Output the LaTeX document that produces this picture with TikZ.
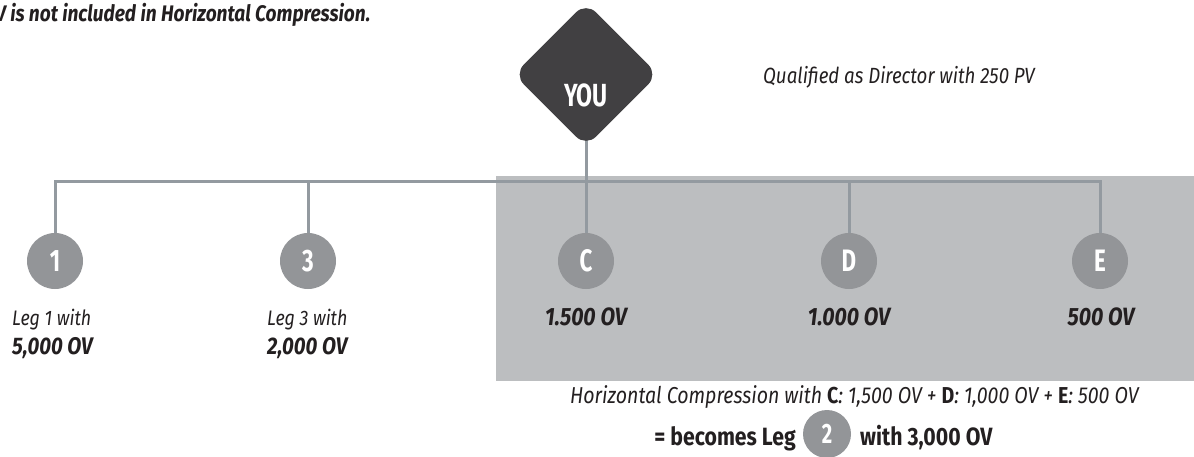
\documentclass[tikz,border=0pt]{standalone}
\usepackage{fontspec}
\setmainfont{Fira Sans}[FakeStretch=0.85]
\newfontfamily\condfont{Fira Sans}[FakeStretch=0.72]
\usetikzlibrary{backgrounds}
\definecolor{panelgray}{HTML}{BCBEC0}
\definecolor{linegray}{HTML}{939AA0}
\definecolor{leggray}{HTML}{939598}
\definecolor{youdark}{HTML}{414042}
\definecolor{inkdark}{HTML}{231F20}
\newcommand{\plainsize}{\fontsize{20}{24}\selectfont}
\newcommand{\strongsize}{\fontsize{22}{26}\selectfont}
\begin{document}
\begin{tikzpicture}[x=1pt,y=-1pt,
    link/.style={draw=linegray,line width=3pt},
    leg/.style={circle,fill=leggray,minimum size=56pt,inner sep=0pt,text=white,font=\condfont\bfseries\fontsize{31}{31}\selectfont},
    youbox/.style={fill=youdark,minimum size=102pt,inner sep=0pt,rotate=45,rounded corners=14pt},
    note/.style={text=inkdark,inner sep=0pt,font=\plainsize\itshape},
    amount/.style={text=inkdark,inner sep=0pt,font=\strongsize\bfseries\itshape},
    strong/.style={text=inkdark,inner sep=0pt,font=\fontsize{25}{30}\selectfont\bfseries}]
  \useasboundingbox (0,0) rectangle (1194,457);
  % top notes
  \node[amount,anchor=base west,font=\fontsize{22.5}{27}\selectfont\bfseries\itshape] (excluded) at (-5,22) {V is not included in Horizontal Compression.};
  \node[youbox] (you) at (586,74.5) {};
  \node[text=white,font=\condfont\bfseries\fontsize{32}{32}\selectfont] (youtext) at (586,95) {YOU};
  \node[note,anchor=base west,font=\fontsize{22}{26}\selectfont\itshape] (qualified) at (763,84) {Qualified as Director with 250 PV};
  % legs
  \coordinate (bar) at (0,182);
  \node[leg] (leg1) at (55,261) {1};
  \node[leg] (leg3) at (308,261) {3};
  \node[leg] (legC) at (586,261) {C};
  \node[leg] (legD) at (849,261) {D};
  \node[leg] (legE) at (1100,261) {E};
  \node[note,anchor=base west,font=\fontsize{21}{25}\selectfont\itshape] (leg1a) at (12,325) {Leg 1 with};
  \node[amount,anchor=base west,font=\fontsize{24}{28}\selectfont\bfseries\itshape] (leg1b) at (12,354) {5,000 OV};
  \node[note,anchor=base west,font=\fontsize{21}{25}\selectfont\itshape] (leg3a) at (267,325) {Leg 3 with};
  \node[amount,anchor=base west,font=\fontsize{24}{28}\selectfont\bfseries\itshape] (leg3b) at (267,354) {2,000 OV};
  \node[amount,anchor=base,font=\fontsize{25}{30}\selectfont\bfseries\itshape] (legCov) at (586,325) {1.500 OV};
  \node[amount,anchor=base,font=\fontsize{25}{30}\selectfont\bfseries\itshape] (legDov) at (849,325) {1.000 OV};
  \node[amount,anchor=base,font=\fontsize{25}{30}\selectfont\bfseries\itshape] (legEov) at (1101,325) {500 OV};
  % compression
  \node[note,anchor=base west,font=\fontsize{23}{28}\selectfont\itshape] (sum) at (570,403) {Horizontal Compression with {\bfseries\upshape C}: 1,500 OV + {\bfseries\upshape D}: 1,000 OV + {\bfseries\upshape E}: 500 OV};
  \node[leg,minimum size=48pt,font=\condfont\bfseries\fontsize{28}{28}\selectfont] (leg2) at (827,434) {2};
  \node[strong,anchor=base east] (becomes) at (796,445) {= becomes Leg};
  \node[strong,anchor=base west] (result) at (860,445) {with 3,000 OV};
  \begin{scope}[on background layer]
    \fill[panelgray] (496,176) rectangle (1194,381);
    \draw[link] (you.center) -- (you.center |- bar);
    \draw[link] (leg1.center) -- (leg1 |- bar) -- (legE |- bar) -- (legE.center);
    \foreach \n in {leg3,legC,legD}
      \draw[link] (\n.center) -- (\n |- bar);
  \end{scope}
\end{tikzpicture}
\end{document}
